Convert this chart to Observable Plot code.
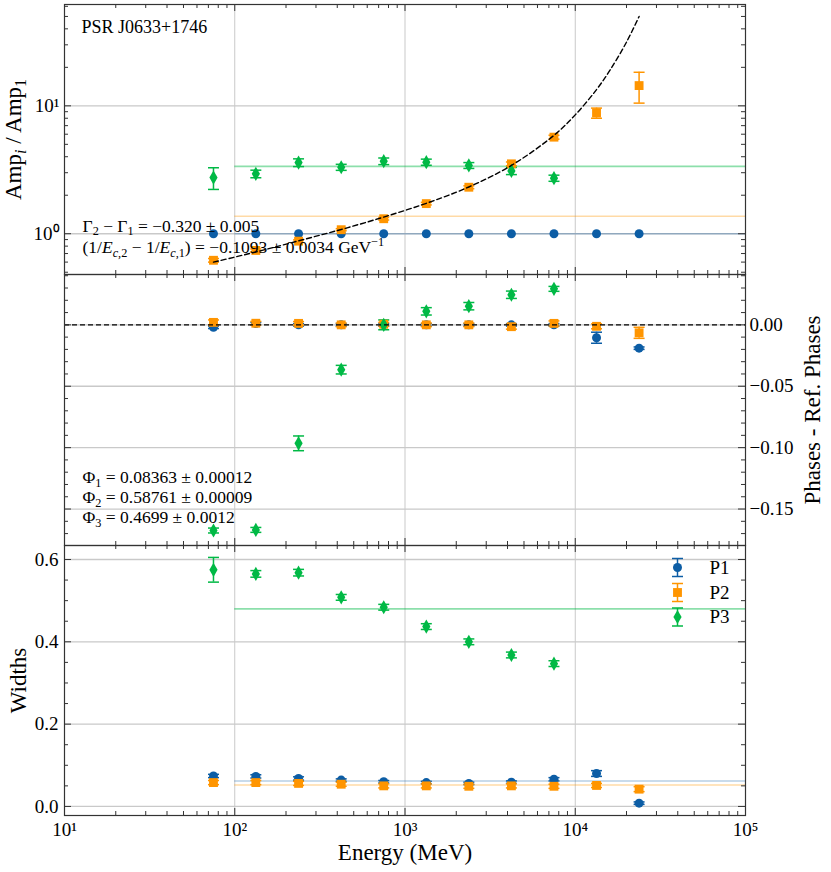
<!DOCTYPE html>
<html>
<head>
<meta charset="utf-8">
<script src="https://cdn.jsdelivr.net/npm/d3@7"></script>
<script src="https://cdn.jsdelivr.net/npm/@observablehq/plot@0.6"></script>
<style>
  body { margin: 0; background: #fff; font-family: 'Liberation Serif', serif; }
  #wrap { position: relative; width: 831px; height: 872px; background: #fff; }
  #wrap svg { position: absolute; left: 0; overflow: visible; }
</style>
</head>
<body>
<div id="wrap"></div>
<script>
// ---------------- data ----------------
const energies = [75, 133, 237, 422, 750, 1334, 2371, 4217, 7499, 13335, 23714];
const seriesNames = ["P1", "P2", "P3"];
const colors = ["#0C5DA5", "#FF9500", "#00B945"];
const symbolNames = ["circle", "square", "diamond"];

// amplitude ratios Amp_i / Amp_1
const ampP1 = [1, 1, 1, 1, 1, 1, 1, 1, 1, 1, 1];
const ampP1Err = [0, 0, 0, 0, 0, 0, 0, 0, 0, 0, 0];
const ampP2 = [0.62, 0.74, 0.875, 1.075, 1.31, 1.72, 2.31, 3.52, 5.69, 8.8, 14.4];
const ampP2Err = [0.02, 0.02, 0.02, 0.02, 0.03, 0.04, 0.06, 0.12, 0.2, 0.8, 3.9];
const ampP3 = [2.75, 2.94, 3.6, 3.31, 3.69, 3.63, 3.42, 3.1, 2.72];
const ampP3Err = [0.53, 0.2, 0.25, 0.18, 0.22, 0.2, 0.18, 0.2, 0.15];
const ampFitLevels = [1.0, 1.37, 3.36];
// dashed model curve
const ampCurveE = [75, 133, 237, 422, 750, 1334, 2371, 4217, 7499, 10000, 13335, 16000, 20000, 23714];
const ampCurveR = [0.60, 0.72, 0.88, 1.08, 1.35, 1.73, 2.32, 3.42, 5.88, 8.5, 13.4, 19.0, 31.5, 50];

// phases - reference phases
const phP1 = [-0.002, 0.001, 0, 0, 0, 0, 0, 0, 0, -0.0105, -0.019];
const phP1Err = [0.001, 0.001, 0.001, 0.001, 0.001, 0.001, 0.001, 0.001, 0.001, 0.0045, 0.001];
const phP2 = [0.002, 0.0013, 0.0012, 0, 0.0005, 0, 0, -0.0015, 0.0012, -0.0012, -0.0065];
const phP2Err = [0.002, 0.0015, 0.0015, 0.0015, 0.0015, 0.0015, 0.0015, 0.002, 0.002, 0.002, 0.0045];
const phP3 = [-0.1675, -0.167, -0.0965, -0.0365, 0, 0.011, 0.0152, 0.0245, 0.0293];
const phP3Err = [0.002, 0.002, 0.006, 0.0035, 0.004, 0.003, 0.003, 0.003, 0.002];

// widths
const wP1 = [0.074, 0.073, 0.068, 0.064, 0.060, 0.058, 0.056, 0.059, 0.066, 0.080, 0.008];
const wP1Err = [0.004, 0.004, 0.004, 0.003, 0.003, 0.003, 0.003, 0.003, 0.004, 0.007, 0.003];
const wP2 = [0.058, 0.058, 0.056, 0.054, 0.050, 0.050, 0.049, 0.050, 0.049, 0.051, 0.042];
const wP2Err = [0.005, 0.005, 0.005, 0.005, 0.005, 0.005, 0.005, 0.005, 0.005, 0.005, 0.006];
const wP3 = [0.575, 0.565, 0.568, 0.508, 0.484, 0.437, 0.400, 0.368, 0.347];
const wP3Err = [0.03, 0.008, 0.008, 0.007, 0.007, 0.007, 0.007, 0.007, 0.007];
const widthFitLevels = [0.062, 0.052, 0.480];

const fitRange = [100, 1e5];

// ticks
const xMajor = [10, 100, 1000, 10000, 100000];
const xMinor = [1, 2, 3, 4].flatMap(k => [2, 3, 4, 5, 6, 7, 8, 9].map(m => m * 10 ** k));
const ampMajor = [1, 10];
const ampMinor = [0.5, 0.6, 0.7, 0.8, 0.9, 2, 3, 4, 5, 6, 7, 8, 9, 20, 30, 40, 50, 60];
const phMajor = [0, -0.05, -0.10, -0.15];
const phMinor = [0.04, 0.03, 0.02, 0.01, -0.01, -0.02, -0.03, -0.04, -0.06, -0.07, -0.08, -0.09,
                 -0.11, -0.12, -0.13, -0.14, -0.16, -0.17];
const wMajor = [0, 0.2, 0.4, 0.6];
const wMinor = [0.05, 0.1, 0.15, 0.25, 0.3, 0.35, 0.45, 0.5, 0.55];

// texts
const psrName = "PSR J0633+1746";
const gammaSegs = [{t: "Γ"}, {t: "2", sub: 1}, {t: " − Γ"}, {t: "1", sub: 1}, {t: " = −0.320 ± 0.005"}];
const ecSegs = [{t: "(1/"}, {t: "E", it: 1}, {t: "c", sub: 1, it: 1}, {t: ",2", sub: 1}, {t: " − 1/"},
                {t: "E", it: 1}, {t: "c", sub: 1, it: 1}, {t: ",1", sub: 1},
                {t: ") = −0.1093 ± 0.0034 GeV"}, {t: "−1", sup: 1}];
const phiSegs = [
  [{t: "Φ"}, {t: "1", sub: 1}, {t: " = 0.08363 ± 0.00012"}],
  [{t: "Φ"}, {t: "2", sub: 1}, {t: " = 0.58761 ± 0.00009"}],
  [{t: "Φ"}, {t: "3", sub: 1}, {t: " = 0.4699 ± 0.0012"}]
];
const ampLabelSegs = [{t: "Amp"}, {t: "i", sub: 1, it: 1}, {t: " / Amp"}, {t: "1", sub: 1}];
const phaseLabel = "Phases - Ref. Phases";
const widthLabel = "Widths";
const energyLabel = "Energy (MeV)";

// ---------------- helpers ----------------
const W = 831, ML = 64, MR = 86, PW = W - ML - MR;
const FF = "Liberation Serif";
const axisColor = "#333";
const gridColor = "#c9c9c9";
const sup = {"0": "⁰", "1": "¹", "2": "²", "3": "³", "4": "⁴", "5": "⁵"};
const powFmt = d => "10" + sup[String(Math.round(Math.log10(d)))];
const plain = segs => segs.map(s => s.t).join("");

const hcap = {draw(ctx, size) { const r = Math.sqrt(size / Math.PI); ctx.moveTo(-r, 0); ctx.lineTo(r, 0); }};
const vbar = {draw(ctx, size) { const r = Math.sqrt(size / Math.PI); ctx.moveTo(0, -r); ctx.lineTo(0, r); }};
const markerR = [4.5, 5.0, 4.3];

function rows(vals, errs) {
  return vals.map((v, i) => ({E: energies[i], v, e: errs[i], lo: v - errs[i], hi: v + errs[i]}));
}

function frameTicks(H, yMajor, yMinor) {
  const o = {stroke: axisColor, strokeWidth: 1};
  return [
    Plot.tickX(xMajor, {x: d => d, insetTop: H - 7, ...o}),
    Plot.tickX(xMajor, {x: d => d, insetBottom: H - 7, ...o}),
    Plot.tickX(xMinor, {x: d => d, insetTop: H - 4, ...o}),
    Plot.tickX(xMinor, {x: d => d, insetBottom: H - 4, ...o}),
    Plot.tickY(yMajor, {y: d => d, insetRight: PW - 7, ...o}),
    Plot.tickY(yMajor, {y: d => d, insetLeft: PW - 7, ...o}),
    Plot.tickY(yMinor, {y: d => d, insetRight: PW - 4, ...o}),
    Plot.tickY(yMinor, {y: d => d, insetLeft: PW - 4, ...o}),
    Plot.frame({stroke: axisColor, strokeWidth: 1.2})
  ];
}

function gridMarks(yGrid) {
  return [
    Plot.ruleX([100, 1000, 10000], {stroke: gridColor, strokeWidth: 1}),
    Plot.ruleY(yGrid, {stroke: gridColor, strokeWidth: 1.3})
  ];
}

function errMarks(data, color) {
  const d = data.filter(r => r.e > 0);
  const o = {x: "E", stroke: color, strokeWidth: 1.5};
  return [
    Plot.ruleX(d, {...o, y1: "lo", y2: "hi"}),
    Plot.dot(d, {...o, y: "lo", symbol: hcap, r: 5.5, fill: "none"}),
    Plot.dot(d, {...o, y: "hi", symbol: hcap, r: 5.5, fill: "none"})
  ];
}

function seriesMarks(list) {
  const marks = [];
  list.forEach((data, i) => marks.push(...errMarks(data, colors[i])));
  list.forEach((data, i) => marks.push(Plot.dot(data, {x: "E", y: "v", symbol: symbolNames[i], r: markerR[i], fill: colors[i], stroke: "none"})));
  return marks;
}

function fitLines(levels) {
  const op = [0.3, 0.35, 0.45];
  return levels.map((lv, i) => Plot.ruleY([lv], {x1: fitRange[0], x2: fitRange[1], stroke: colors[i], strokeOpacity: op[i], strokeWidth: 1.6}));
}

function txt(s, opts) {
  return Plot.text([s], {textAnchor: "start", lineAnchor: "middle", fontFamily: FF, ...opts});
}

function setRich(svg, plainText, segs, size) {
  const t = d3.select(svg).selectAll("text").filter(function () { return this.textContent === plainText; });
  t.each(function () {
    const text = d3.select(this);
    text.text(null);
    let shift = 0;
    for (const s of segs) {
      const target = s.sub ? size * 0.22 : s.sup ? -size * 0.38 : 0;
      const ts = text.append("tspan").text(s.t);
      if (target !== shift) { ts.attr("dy", target - shift); shift = target; }
      if (s.sub || s.sup) ts.attr("font-size", size * 0.7);
      if (s.it) ts.attr("font-style", "italic");
    }
  });
}

function forceFont(svg) {
  d3.select(svg).attr("font-family", FF).style("font-family", FF);
  d3.select(svg).selectAll("g, text, tspan").filter(function () { return this.hasAttribute("font-family"); }).attr("font-family", FF);
  d3.select(svg).selectAll("text").style("font-family", FF);
}

const style = "font-family: 'Liberation Serif'; font-size: 19px; background: transparent; overflow: visible;";
const wrap = document.getElementById("wrap");

// ---------------- top panel ----------------
{
  const H = 270;
  const ampRows = [rows(ampP1, ampP1Err), rows(ampP2, ampP2Err), rows(ampP3, ampP3Err)];
  const curve = ampCurveE.map((E, i) => ({E, v: ampCurveR[i]}));
  const p = Plot.plot({
    width: W, height: 274, marginLeft: ML, marginRight: MR, marginTop: 4, marginBottom: 0,
    style,
    x: {type: "log", domain: [10, 1e5], axis: null},
    y: {type: "log", domain: [0.48, 62]},
    marks: [
      ...gridMarks(ampMajor),
      ...fitLines(ampFitLevels),
      ...seriesMarks(ampRows),
      Plot.line(curve, {x: "E", y: "v", curve: "catmull-rom", stroke: "black", strokeWidth: 1.4, strokeDasharray: "5,3"}),
      ...frameTicks(H, ampMajor, ampMinor),
      Plot.axisY({ticks: ampMajor, tickFormat: powFmt, tickSize: 0, tickPadding: 5, label: null, fontSize: 19, fontFamily: FF}),
      txt(psrName, {frameAnchor: "top-left", dx: 17, dy: 22.6, fontSize: 18}),
      txt(plain(gammaSegs), {frameAnchor: "bottom-left", dx: 18, dy: -48.5, fontSize: 17.5}),
      txt(plain(ecSegs), {frameAnchor: "bottom-left", dx: 18, dy: -27, fontSize: 17.5}),
      txt(plain(ampLabelSegs), {frameAnchor: "left", dx: -51, rotate: -90, textAnchor: "middle", fontSize: 23})
    ]
  });
  p.style.top = "0px";
  wrap.appendChild(p);
  setRich(p, plain(gammaSegs), gammaSegs, 17.5);
  setRich(p, plain(ecSegs), ecSegs, 17.5);
  setRich(p, plain(ampLabelSegs), ampLabelSegs, 23);
  forceFont(p);
}

// ---------------- middle panel ----------------
{
  const H = 271;
  const phRows = [rows(phP1, phP1Err), rows(phP2, phP2Err), rows(phP3, phP3Err)];
  const p = Plot.plot({
    width: W, height: 271, marginLeft: ML, marginRight: MR, marginTop: 0, marginBottom: 0,
    style,
    x: {type: "log", domain: [10, 1e5], axis: null},
    y: {domain: [-0.1797, 0.041]},
    marks: [
      ...gridMarks(phMajor),
      ...seriesMarks(phRows),
      Plot.ruleY([0], {stroke: "black", strokeWidth: 1.4, strokeDasharray: "5,3"}),
      ...frameTicks(H, phMajor, phMinor),
      Plot.axisY({anchor: "right", ticks: phMajor, tickFormat: d3.format(".2f"), tickSize: 0, tickPadding: 4, label: null, fontSize: 19, fontFamily: FF}),
      ...phiSegs.map((segs, i) => txt(plain(segs), {frameAnchor: "bottom-left", dx: 18, dy: -68.4 + 20 * i, fontSize: 17.5})),
      txt(phaseLabel, {frameAnchor: "right", dx: 67.5, rotate: -90, textAnchor: "middle", fontSize: 23})
    ]
  });
  p.style.top = "274px";
  wrap.appendChild(p);
  phiSegs.forEach(segs => setRich(p, plain(segs), segs, 17.5));
  forceFont(p);
}

// ---------------- bottom panel ----------------
{
  const H = 270;
  const wRows = [rows(wP1, wP1Err), rows(wP2, wP2Err), rows(wP3, wP3Err)];
  const legendDy = [22, 47, 71.5];
  const legendMarks = [];
  seriesNames.forEach((name, i) => {
    const base = {frameAnchor: "top-right", dx: -68, stroke: colors[i], strokeWidth: 1.5, fill: "none"};
    legendMarks.push(
      Plot.dot([name], {...base, dy: legendDy[i], symbol: vbar, r: 9}),
      Plot.dot([name], {...base, dy: legendDy[i] - 9, symbol: hcap, r: 5.5}),
      Plot.dot([name], {...base, dy: legendDy[i] + 9, symbol: hcap, r: 5.5}),
      Plot.dot([name], {frameAnchor: "top-right", dx: -68, dy: legendDy[i], symbol: symbolNames[i], r: markerR[i], fill: colors[i], stroke: "none"}),
      txt(name, {frameAnchor: "top-right", dx: -36, dy: legendDy[i], fontSize: 19})
    );
  });
  const p = Plot.plot({
    width: W, height: 327, marginLeft: ML, marginRight: MR, marginTop: 0, marginBottom: 57,
    style,
    x: {type: "log", domain: [10, 1e5]},
    y: {domain: [-0.022, 0.634]},
    marks: [
      ...gridMarks(wMajor),
      ...fitLines(widthFitLevels),
      ...seriesMarks(wRows),
      ...frameTicks(H, wMajor, wMinor),
      Plot.axisY({ticks: wMajor, tickFormat: d3.format(".1f"), tickSize: 0, tickPadding: 6, label: null, fontSize: 19, fontFamily: FF}),
      Plot.axisX({ticks: xMajor, tickFormat: powFmt, tickSize: 0, tickPadding: 7, label: null, fontSize: 19, fontFamily: FF}),
      txt(energyLabel, {frameAnchor: "bottom", dy: 37.6, textAnchor: "middle", fontSize: 23}),
      txt(widthLabel, {frameAnchor: "left", dx: -45.5, rotate: -90, textAnchor: "middle", fontSize: 23}),
      ...legendMarks
    ]
  });
  p.style.top = "545px";
  wrap.appendChild(p);
  forceFont(p);
}
</script>
</body>
</html>
